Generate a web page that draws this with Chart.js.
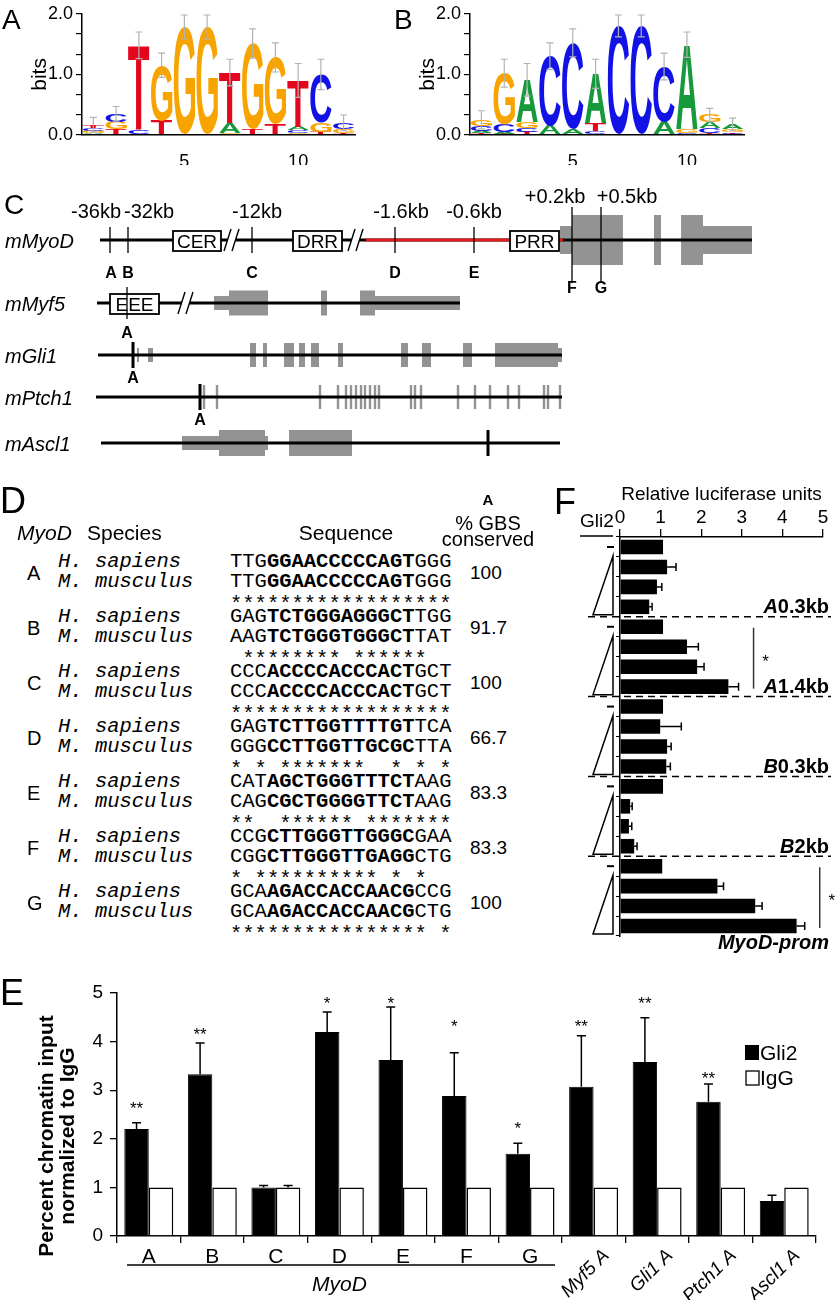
<!DOCTYPE html>
<html>
<head>
<meta charset="utf-8">
<script src="https://cdn.jsdelivr.net/npm/chart.js@4.4.1/dist/chart.umd.min.js"></script>
<style>
  html, body { margin: 0; padding: 0; background: #fff; }
  body { position: relative; width: 840px; height: 1300px; overflow: hidden;
         font-family: "Liberation Sans", Arial, sans-serif; color: #000; }
  .t { position: absolute; white-space: pre; line-height: 1; }
  .wrap { position: absolute; }
  .mono { font-family: "Liberation Mono", "Courier New", monospace; }
</style>
</head>
<body>
<div class="wrap" style="left:0;top:0"><canvas id="logoA" width="400" height="165"></canvas></div>
<div class="wrap" style="left:395px;top:0"><canvas id="logoB" width="445" height="165"></canvas></div>
<div class="wrap" style="left:0;top:160px"><canvas id="genes" width="840" height="310"></canvas></div>
<div class="wrap" style="left:575px;top:475px"><canvas id="luc" width="265" height="480"></canvas></div>
<div class="wrap" style="left:0;top:960px"><canvas id="chip" width="840" height="340"></canvas></div>
<div id="text"></div>

<script>
// ---------- A / B: sequence logos (bits per base at positions 1-12)
const logoPositions = ['1','2','3','4','5','6','7','8','9','10','11','12'];
const logoYTicks = [0, 1/3, 2/3, 1, 4/3, 5/3, 2];
const logoA_A = [0.03, 0.00, 0.00, 0.00, 0.00, 0.00, 0.16, 0.00, 0.00, 0.06, 0.00, 0.00];
const logoA_C = [0.05, 0.13, 0.08, 0.00, 0.00, 0.00, 0.00, 0.00, 0.00, 0.05, 0.80, 0.10];
const logoA_G = [0.04, 0.12, 0.00, 0.91, 1.78, 1.78, 0.04, 1.41, 1.10, 0.03, 0.16, 0.07];
const logoA_T = [0.05, 0.10, 1.40, 0.24, 0.00, 0.00, 0.83, 0.10, 0.18, 0.76, 0.04, 0.03];
const logoAErr = [0.12, 0.12, 0.22, 0.20, 0.20, 0.20, 0.22, 0.24, 0.24, 0.28, 0.25, 0.13];
const logoB_A = [0.04, 0.03, 0.70, 0.15, 0.10, 0.82, 0.00, 0.00, 0.22, 1.39, 0.10, 0.08];
const logoB_C = [0.08, 0.12, 0.06, 1.15, 1.42, 0.06, 1.80, 1.80, 0.91, 0.04, 0.08, 0.03];
const logoB_G = [0.10, 0.85, 0.10, 0.00, 0.00, 0.00, 0.00, 0.00, 0.00, 0.06, 0.12, 0.05];
const logoB_T = [0.03, 0.02, 0.05, 0.00, 0.00, 0.13, 0.00, 0.00, 0.00, 0.00, 0.03, 0.02];
const logoBErr = [0.15, 0.23, 0.27, 0.22, 0.23, 0.24, 0.18, 0.18, 0.22, 0.21, 0.11, 0.10];

// ---------- C: gene maps (diagram units, left→right / top→bottom)
const geneNames = ['mMyoD', 'mMyf5', 'mGli1', 'mPtch1', 'mAscl1'];
const geneRow = [240, 303, 355, 397, 443];
const geneSpan = [[100, 752], [97, 460], [98, 562], [96, 562], [101, 560]];
const geneUTR = [[[560, 572], [703, 752]], [[214, 229], [375, 460]], [[137, 139], [148, 153], [558, 562]], [], [[182, 219], [265, 268]]];
const ptch1Exons = [204, 217, 320, 338, 346, 351, 356, 361, 365, 370, 375, 379, 411, 415, 421, 458, 475, 490, 508, 519, 544, 548, 560];
const geneCDS = [
  [[572, 623], [654, 661], [681, 703]],
  [[229, 268], [321, 327], [360, 375]],
  [[250, 256], [263, 267], [284, 294], [299, 305], [311, 319], [338, 343], [401, 408], [422, 431], [463, 472], [495, 558]],
  ptch1Exons.map(c => [c - 1.2, c + 1.2]),
  [[219, 265], [289, 352]]
];
const geneUTRHalf = [14, 7, 7, 0, 7];
const geneCDSHalf = [25, 12.5, 12, 12, 13];
const geneBreaks = [[232, 356], [186], [], [], []];
const geneBoxes = [[['CER', 173, 221], ['DRR', 293, 342], ['PRR', 510, 559]], [['EEE', 110, 159]], [], [], []];
const myodPromoter = [366, 563];
const myodSites = ['A', 'B', 'C', 'D', 'E', 'F', 'G'];
const myodSiteX = [110, 128, 252, 395, 474, 572, 601];
const myodSiteKb = ['-36kb', '-32kb', '-12kb', '-1.6kb', '-0.6kb', '+0.2kb', '+0.5kb'];
const myodKbAt = [96, 149, 257, 401, 474, 555, 627];
const otherSiteX = [127, 133, 200, 488];        // Myf5, Gli1, Ptch1, Ascl1
const otherSiteLabel = ['A', 'A', 'A', ''];

// ---------- D: conservation of Gli binding sites
const dSites = ['A', 'B', 'C', 'D', 'E', 'F', 'G'];
const dHuman = ['TTGGGAACCCCCAGTGGG', 'GAGTCTGGGAGGGCTTGG', 'CCCACCCCACCCACTGCT', 'GAGTCTTGGTTTTGTTCA',
                'CATAGCTGGGTTTCTAAG', 'CCGCTTGGGTTGGGCGAA', 'GCAAGACCACCAACGCCG'];
const dMouse = ['TTGGGAACCCCCAGTGGG', 'AAGTCTGGGTGGGCTTAT', 'CCCACCCCACCCACTGCT', 'GGGCCTTGGTTGCGCTTA',
                'CAGCGCTGGGGTTCTAAG', 'CGGCTTGGGTTGAGGCTG', 'GCAAGACCACCAACGCTG'];
const dStars = ['******************', ' ******** ******  ', '******************', '* * *******  * * *',
                '**  ****** *******', '* ********** * *  ', '**************** *'];
const dConserved = ['100', '91.7', '100', '66.7', '83.3', '83.3', '100'];

// ---------- E: ChIP
const eLabels = ['A', 'B', 'C', 'D', 'E', 'F', 'G', 'Myf5 A', 'Gli1 A', 'Ptch1 A', 'Ascl1 A'];
const eGli2 = [2.20, 3.33, 1.00, 4.20, 3.62, 2.88, 1.69, 3.07, 3.58, 2.76, 0.72];
const eGli2Err = [0.13, 0.64, 0.04, 0.41, 1.09, 0.89, 0.22, 1.05, 0.91, 0.37, 0.12];
const eIgG = [1, 1, 1, 1, 1, 1, 1, 1, 1, 1, 1];
const eIgGErr = [0, 0, 0.04, 0, 0, 0, 0, 0, 0, 0, 0];
const eStars = ['**', '**', '', '*', '*', '*', '*', '**', '**', '**', ''];
const eStarLevel = [2.70, 4.24, 0, 4.88, 4.88, 4.40, 2.29, 4.40, 4.88, 3.33, 0];

// ---------- F: luciferase
const fGroupGene = ['A', 'A', 'B', 'B', 'MyoD-prom'];
const fGroupSize = ['0.3kb', '1.4kb', '0.3kb', '2kb', ''];
const fValues = [1.06, 1.16, 0.91, 0.72, 1.06, 1.65, 1.90, 2.67, 1.06, 0.99, 1.16, 1.14,
                 1.06, 0.25, 0.22, 0.35, 1.04, 2.40, 3.33, 4.35];
const fErr = [0, 0.22, 0.12, 0.07, 0, 0.28, 0.17, 0.25, 0, 0.52, 0.10, 0.10,
              0, 0.05, 0.07, 0.07, 0, 0.15, 0.17, 0.20];
const fSignificant = [false, true, false, false, true];

Chart.defaults.font.family = '"Liberation Sans", Arial, sans-serif';
Chart.defaults.color = '#000';
const SANS = '"Liberation Sans", Arial, sans-serif';

// ---------------------------------------------------------------- logos
const baseColor = { A: '#169a3c', C: '#1212e6', G: '#f8a400', T: '#e3061d' };

function drawGlyph(ctx, ch, x, y, w, h, color) {
  if (h < 0.6) return;
  ctx.save();
  ctx.font = 'bold 100px ' + SANS;
  const m = ctx.measureText(ch);
  const gw = m.actualBoundingBoxLeft + m.actualBoundingBoxRight;
  const gh = m.actualBoundingBoxAscent + m.actualBoundingBoxDescent;
  ctx.translate(x, y);
  ctx.scale(w / gw, h / gh);
  ctx.fillStyle = color;
  ctx.textAlign = 'left';
  ctx.textBaseline = 'alphabetic';
  ctx.fillText(ch, m.actualBoundingBoxLeft, m.actualBoundingBoxAscent);
  ctx.restore();
}

function makeLogo(id, cols, err, padLeft, padRight) {
  const bases = ['A', 'C', 'G', 'T'];
  const ranks = [0, 1, 2, 3].map(() => ({ h: [], b: [] }));
  const totals = [];
  logoPositions.forEach((p, i) => {
    const order = bases.map((b, k) => ({ b, h: cols[k][i] })).sort((a, c) => a.h - c.h);
    order.forEach((o, r) => { ranks[r].h.push(o.h); ranks[r].b.push(o.b); });
    totals.push(order.reduce((s, o) => s + o.h, 0));
  });

  const letters = {
    id: 'letters',
    afterDatasetsDraw(chart) {
      const ctx = chart.ctx;
      chart.data.datasets.forEach((ds, di) => {
        chart.getDatasetMeta(di).data.forEach((bar, i) => {
          if (ds.data[i] <= 0) return;
          const b = ds.bases[i];
          drawGlyph(ctx, b, bar.x - bar.width / 2, bar.y, bar.width, bar.base - bar.y, baseColor[b]);
        });
      });
      const { x, y } = chart.scales;
      ctx.save();
      ctx.strokeStyle = '#b2b2b2';
      ctx.lineWidth = 1.2;
      err.forEach((e, i) => {
        const px = x.getPixelForValue(i);
        const y1 = y.getPixelForValue(totals[i] + e), y0 = y.getPixelForValue(totals[i] - e);
        ctx.beginPath();
        ctx.moveTo(px, y0); ctx.lineTo(px, y1);
        ctx.moveTo(px - 3.5, y1); ctx.lineTo(px + 3.5, y1);
        ctx.moveTo(px - 3.5, y0); ctx.lineTo(px + 3.5, y0);
        ctx.stroke();
      });
      ctx.restore();
    }
  };

  return new Chart(document.getElementById(id), {
    type: 'bar',
    data: {
      labels: logoPositions,
      datasets: ranks.map(r => ({
        data: r.h, bases: r.b, backgroundColor: 'rgba(0,0,0,0)', borderWidth: 0,
        barPercentage: 0.94, categoryPercentage: 1
      }))
    },
    options: {
      responsive: false, animation: false, events: [],
      layout: { padding: { left: padLeft, right: padRight, top: 10, bottom: 0 } },
      plugins: { legend: { display: false }, tooltip: { enabled: false } },
      scales: {
        x: {
          stacked: true,
          grid: { display: false },
          border: { color: '#000', width: 1.5 },
          ticks: {
            autoSkip: false, maxRotation: 0, padding: 8, font: { size: 18 },
            callback: (v, i) => (logoPositions[i] === '5' || logoPositions[i] === '10') ? logoPositions[i] : ''
          },
          afterFit: s => { s.height = 30; }
        },
        y: {
          stacked: true, min: 0, max: 2,
          afterBuildTicks: s => { s.ticks = logoYTicks.map(v => ({ value: v })); },
          ticks: { autoSkip: false, font: { size: 18 }, padding: 3,
                   callback: v => Math.abs(v - Math.round(v)) < 1e-6 ? v.toFixed(1) : '' },
          grid: { drawOnChartArea: false, tickLength: 6, color: '#000', lineWidth: 1.2 },
          border: { color: '#000', width: 1.5 },
          title: { display: true, text: 'bits', font: { size: 21 }, padding: 0 },
          afterFit: s => { s.width = 54; }
        }
      }
    },
    plugins: [letters]
  });
}

makeLogo('logoA', [logoA_A, logoA_C, logoA_G, logoA_T], logoAErr, 28, 45);
makeLogo('logoB', [logoB_A, logoB_C, logoB_G, logoB_T], logoBErr, 21, 96);

// ---------------------------------------------------------------- gene maps
const genePlugin = {
  id: 'genes',
  afterDraw(chart) {
    const { ctx, scales: { x, y } } = chart;
    const X = v => x.getPixelForValue(v), Y = v => y.getPixelForValue(v);
    ctx.save();
    ctx.textAlign = 'center';
    ctx.textBaseline = 'alphabetic';

    geneNames.forEach((name, g) => {
      const row = geneRow[g];
      // exons
      ctx.fillStyle = '#939393';
      geneUTR[g].forEach(([a, b]) => ctx.fillRect(X(a), Y(row - geneUTRHalf[g]), X(b) - X(a), 2 * geneUTRHalf[g]));
      geneCDS[g].forEach(([a, b]) => ctx.fillRect(X(a), Y(row - geneCDSHalf[g]), X(b) - X(a), 2 * geneCDSHalf[g]));
      // backbone
      ctx.strokeStyle = '#000';
      ctx.lineWidth = 3;
      ctx.beginPath();
      ctx.moveTo(X(geneSpan[g][0]), Y(row)); ctx.lineTo(X(geneSpan[g][1]), Y(row));
      ctx.stroke();
      if (g === 0) {
        ctx.strokeStyle = '#e01b1b';
        ctx.beginPath();
        ctx.moveTo(X(myodPromoter[0]), Y(row)); ctx.lineTo(X(myodPromoter[1]), Y(row));
        ctx.stroke();
      }
      // axis breaks
      geneBreaks[g].forEach(c => {
        ctx.fillStyle = '#fff';
        ctx.beginPath();
        ctx.moveTo(X(c - 8), Y(row + 11)); ctx.lineTo(X(c - 1), Y(row - 11));
        ctx.lineTo(X(c + 7), Y(row - 11)); ctx.lineTo(X(c), Y(row + 11));
        ctx.closePath(); ctx.fill();
        ctx.strokeStyle = '#000'; ctx.lineWidth = 1.4;
        ctx.beginPath();
        ctx.moveTo(X(c - 8), Y(row + 11)); ctx.lineTo(X(c - 1), Y(row - 11));
        ctx.moveTo(X(c), Y(row + 11)); ctx.lineTo(X(c + 7), Y(row - 11));
        ctx.stroke();
      });
      // regulatory boxes
      geneBoxes[g].forEach(([label, a, b]) => {
        ctx.fillStyle = '#fff';
        ctx.fillRect(X(a), Y(row - 9), X(b) - X(a), 20);
        ctx.strokeStyle = '#000'; ctx.lineWidth = 1.8;
        ctx.strokeRect(X(a), Y(row - 9), X(b) - X(a), 20);
        ctx.fillStyle = '#000';
        ctx.font = '19px ' + SANS;
        ctx.fillText(label, X((a + b) / 2), Y(row + 8));
      });
      // gene name
      ctx.fillStyle = '#000';
      ctx.font = 'italic 20px ' + SANS;
      ctx.textAlign = 'left';
      ctx.fillText(name, X(5), Y(row + 7.5));
      ctx.textAlign = 'center';
    });

    // MyoD Gli binding sites
    const r0 = geneRow[0];
    ctx.strokeStyle = '#000';
    ctx.lineWidth = 1.3;
    myodSites.forEach((s, i) => {
      const sx = X(myodSiteX[i]);
      const far = i >= 5;
      ctx.beginPath();
      ctx.moveTo(sx, Y(far ? r0 - 33 : r0 - 13)); ctx.lineTo(sx, Y(far ? r0 + 43 : r0 + 13));
      ctx.stroke();
      ctx.font = '20px ' + SANS;
      ctx.fillText(myodSiteKb[i], X(myodKbAt[i]), Y(far ? 203 : 218));
      ctx.font = 'bold 16px ' + SANS;
      ctx.fillText(s, sx + (i === 0 ? 1 : 0), Y(far ? 293 : 278));
    });

    // single sites on the other genes
    otherSiteX.forEach((sx, k) => {
      const row = geneRow[k + 1];
      ctx.lineWidth = k === 0 ? 1.3 : 3;
      const half = k === 0 ? 16 : 13;
      ctx.beginPath();
      ctx.moveTo(X(sx), Y(row - half)); ctx.lineTo(X(sx), Y(row + half));
      ctx.stroke();
      if (otherSiteLabel[k]) {
        ctx.font = 'bold 16px ' + SANS;
        ctx.fillText(otherSiteLabel[k], X(sx), Y(row + (k === 0 ? 35 : 28)));
      }
    });
    ctx.restore();
  }
};

new Chart(document.getElementById('genes'), {
  type: 'scatter',
  data: { datasets: [] },
  options: {
    responsive: false, animation: false, events: [],
    layout: { padding: 0 },
    plugins: { legend: { display: false }, tooltip: { enabled: false } },
    scales: {
      x: { type: 'linear', min: 0, max: 840, display: false },
      y: { type: 'linear', min: 160, max: 470, reverse: true, display: false }
    }
  },
  plugins: [genePlugin]
});

// ---------------------------------------------------------------- F: luciferase
const lucPlugin = {
  id: 'lucDecor',
  afterDraw(chart) {
    const { ctx, scales: { x, y } } = chart;
    const rowY = i => y.getPixelForValue(i);
    ctx.save();
    ctx.strokeStyle = '#000';
    ctx.fillStyle = '#000';
    ctx.lineWidth = 1.5;
    fValues.forEach((v, i) => {
      if (!fErr[i]) return;
      const x0 = x.getPixelForValue(v), x1 = x.getPixelForValue(v + fErr[i]), yy = rowY(i);
      ctx.beginPath();
      ctx.moveTo(x0, yy); ctx.lineTo(x1, yy);
      ctx.moveTo(x1, yy - 4); ctx.lineTo(x1, yy + 4);
      ctx.stroke();
    });

    fGroupGene.forEach((gene, k) => {
      const r0 = k * 4;
      // no-Gli2 control
      ctx.lineWidth = 2;
      ctx.beginPath();
      ctx.moveTo(32, rowY(r0)); ctx.lineTo(39, rowY(r0));
      ctx.stroke();
      // increasing Gli2 wedge
      const top = rowY(r0 + 1) - 11, bot = rowY(r0 + 3) + 8;
      ctx.lineWidth = 1.5;
      ctx.fillStyle = '#fff';
      ctx.beginPath();
      ctx.moveTo(38, top); ctx.lineTo(38, bot); ctx.lineTo(18, bot); ctx.closePath();
      ctx.fill(); ctx.stroke();
      ctx.fillStyle = '#000';
      // separators
      if (k > 0) {
        const sy = (rowY(r0 - 1) + rowY(r0)) / 2;
        ctx.setLineDash([7, 5]);
        ctx.beginPath(); ctx.moveTo(13, sy); ctx.lineTo(256, sy); ctx.stroke();
        ctx.setLineDash([]);
      }
      // construct label
      const base = gene.length > 1 ? rowY(r0 + 3) + 23 : rowY(r0 + 3) + 6.5;
      ctx.font = 'bold 20px ' + SANS;
      const wSize = ctx.measureText(fGroupSize[k]).width;
      ctx.font = 'italic bold 20px ' + SANS;
      const wGene = ctx.measureText(gene).width;
      ctx.textAlign = 'left';
      ctx.fillText(gene, 254 - wSize - wGene, base);
      ctx.font = 'bold 20px ' + SANS;
      ctx.fillText(fGroupSize[k], 254 - wSize, base);
      // significance
      if (fSignificant[k]) {
        let m = 0;
        for (let i = r0; i < r0 + 4; i++) m = Math.max(m, fValues[i] + fErr[i]);
        const lx = x.getPixelForValue(m) + 15;
        ctx.strokeStyle = '#333';
        ctx.lineWidth = 1.5;
        ctx.beginPath(); ctx.moveTo(lx, rowY(r0) + 1); ctx.lineTo(lx, rowY(r0 + 3) + 2); ctx.stroke();
        ctx.strokeStyle = '#000';
        ctx.font = '17px ' + SANS;
        ctx.textAlign = 'center';
        ctx.fillText('*', lx + 12, (rowY(r0) + rowY(r0 + 3)) / 2 + 10);
      }
    });

    // Gli2 header
    ctx.font = '19px ' + SANS;
    ctx.textAlign = 'left';
    ctx.fillText('Gli2', 5, 52);
    ctx.lineWidth = 1.3;
    ctx.beginPath(); ctx.moveTo(5, 61); ctx.lineTo(38, 61); ctx.stroke();
    ctx.restore();
  }
};

new Chart(document.getElementById('luc'), {
  type: 'bar',
  data: {
    labels: fValues.map((v, i) => String(i + 1)),
    datasets: [{ data: fValues, backgroundColor: '#000', borderWidth: 0, barPercentage: 0.73, categoryPercentage: 1 }]
  },
  options: {
    indexAxis: 'y', responsive: false, animation: false, events: [],
    layout: { padding: { left: 41, right: 17, top: 0, bottom: 19 } },
    plugins: { legend: { display: false }, tooltip: { enabled: false } },
    scales: {
      x: {
        position: 'top', min: 0, max: 5,
        ticks: { stepSize: 1, font: { size: 19 }, padding: 0 },
        grid: { drawOnChartArea: false, tickLength: 8, color: '#000', lineWidth: 1.3 },
        border: { color: '#000', width: 1.5 },
        title: { display: true, text: 'Relative luciferase units', font: { size: 19 }, padding: { top: 8, bottom: 0 } },
        afterFit: s => { s.height = 62; }
      },
      y: {
        ticks: { display: false },
        grid: { offset: true, drawOnChartArea: false, tickLength: 4, color: '#000', lineWidth: 1 },
        border: { color: '#000', width: 1.5 },
        afterFit: s => { s.width = 4; }
      }
    }
  },
  plugins: [lucPlugin]
});

// ---------------------------------------------------------------- E: ChIP
const chipPlugin = {
  id: 'chipDecor',
  afterDraw(chart) {
    const { ctx, scales: { x, y } } = chart;
    ctx.save();
    ctx.strokeStyle = '#000';
    ctx.fillStyle = '#000';
    ctx.lineWidth = 1.5;
    [[eGli2, eGli2Err], [eIgG, eIgGErr]].forEach(([vals, errs], di) => {
      chart.getDatasetMeta(di).data.forEach((bar, i) => {
        if (!errs[i]) return;
        const y0 = y.getPixelForValue(vals[i]), y1 = y.getPixelForValue(vals[i] + errs[i]);
        ctx.beginPath();
        ctx.moveTo(bar.x, y0); ctx.lineTo(bar.x, y1);
        ctx.moveTo(bar.x - 4.5, y1); ctx.lineTo(bar.x + 4.5, y1);
        ctx.stroke();
      });
    });
    // significance
    ctx.font = '17px ' + SANS;
    ctx.textAlign = 'center';
    chart.getDatasetMeta(0).data.forEach((bar, i) => {
      if (eStars[i]) ctx.fillText(eStars[i], bar.x, y.getPixelForValue(eStarLevel[i]) + 9.7);
    });
    // category labels
    eLabels.forEach((lab, i) => {
      const cx = x.getPixelForValue(i);
      if (i < 7) {
        ctx.font = '21px ' + SANS;
        ctx.textAlign = 'center';
        ctx.textBaseline = 'alphabetic';
        ctx.fillText(lab, cx, 303);
      } else {
        ctx.save();
        ctx.translate(cx + 6, 286);
        ctx.rotate(-Math.PI / 4);
        ctx.font = 'italic 19px ' + SANS;
        ctx.textAlign = 'right';
        ctx.textBaseline = 'top';
        ctx.fillText(lab, 0, 0);
        ctx.restore();
      }
    });
    ctx.textBaseline = 'alphabetic';
    // MyoD bracket
    ctx.lineWidth = 1.5;
    ctx.beginPath(); ctx.moveTo(127, 305); ctx.lineTo(555, 305); ctx.stroke();
    ctx.font = 'italic 21px ' + SANS;
    ctx.textAlign = 'center';
    ctx.fillText('MyoD', (x.getPixelForValue(0) + x.getPixelForValue(6)) / 2, 331);
    // legend
    ctx.fillRect(745, 85, 14, 15);
    ctx.lineWidth = 1.3;
    ctx.fillStyle = '#fff';
    ctx.fillRect(746, 111, 13, 14);
    ctx.strokeRect(746, 111, 13, 14);
    ctx.fillStyle = '#000';
    ctx.font = '21px ' + SANS;
    ctx.textAlign = 'left';
    ctx.fillText('Gli2', 760, 100);
    ctx.fillText('IgG', 760, 125);
    // y title
    ctx.font = 'bold 21px ' + SANS;
    ctx.textAlign = 'center';
    ctx.textBaseline = 'middle';
    ctx.translate(47, 176);
    ctx.rotate(-Math.PI / 2);
    ctx.fillText('Percent chromatin input', 0, 0);
    ctx.fillText('normalized to IgG', 0, 21);
    ctx.restore();
  }
};

new Chart(document.getElementById('chip'), {
  type: 'bar',
  data: {
    labels: eLabels,
    datasets: [
      { label: 'Gli2', data: eGli2, backgroundColor: '#000', borderColor: '#000', borderWidth: 1 },
      { label: 'IgG', data: eIgG, backgroundColor: '#fff', borderColor: '#000', borderWidth: 1.5 }
    ]
  },
  options: {
    responsive: false, animation: false, events: [],
    datasets: { bar: { categoryPercentage: 0.77, barPercentage: 1 } },
    layout: { padding: { left: 0, right: 24, top: 33, bottom: 0 } },
    plugins: { legend: { display: false }, tooltip: { enabled: false } },
    scales: {
      x: {
        ticks: { display: false },
        grid: { offset: true, drawOnChartArea: false, tickLength: 7, color: '#000', lineWidth: 1.3 },
        border: { color: '#000', width: 1.5 },
        afterFit: s => { s.height = 64; }
      },
      y: {
        min: 0, max: 5,
        ticks: { stepSize: 1, font: { size: 19 }, padding: 7 },
        grid: { drawOnChartArea: false, tickLength: 7, color: '#000', lineWidth: 1.3 },
        border: { color: '#000', width: 1.5 },
        afterFit: s => { s.width = 117; }
      }
    }
  },
  plugins: [chipPlugin]
});

// ---------------------------------------------------------------- page text (panel letters, D)
const host = document.getElementById('text');
function put(str, left, baseline, size, extra, align) {
  const el = document.createElement('div');
  el.className = 't';
  const mono = !!extra && extra.indexOf('mono') === 0;
  el.textContent = str;
  el.style.fontSize = size + 'px';
  el.style.top = (baseline - (mono ? 0.7665 : 0.8465) * size) + 'px';
  if (extra) el.style.cssText += extra.replace(/^mono;?/, '');
  if (mono) el.classList.add('mono');
  if (align === 'center') { el.style.left = (left - 200) + 'px'; el.style.width = '400px'; el.style.textAlign = 'center'; }
  else el.style.left = left + 'px';
  host.appendChild(el);
  return el;
}

put('A', 2, 30, 28);
put('B', 394, 30, 28);
put('C', 4, 215, 28);
put('D', 0, 513, 36);
put('F', 554, 514, 36);
put('E', 0, 1005, 36);

// D header
put('A', 488, 505, 15, 'font-weight:bold;', 'center');
put('% GBS', 488, 530, 20, '', 'center');
put('conserved', 488, 546, 20, '', 'center');
put('MyoD', 17, 540, 21, 'font-style:italic;');
put('Species', 87, 540, 21);
put('Sequence', 346, 540, 21, '', 'center');

dSites.forEach((s, k) => {
  const hs = 568 + 55 * k;
  put(s, 27, hs + 12, 20);
  put('H. sapiens', 58, hs, 20.5, 'mono;font-style:italic;');
  put('M. musculus', 58, hs + 20, 20.5, 'mono;font-style:italic;');
  [dHuman[k], dMouse[k]].forEach((seq, j) => {
    const el = put('', 230, hs + 20 * j, 20.5, 'mono');
    el.innerHTML = seq.slice(0, 3) + '<b>' + seq.slice(3, 15) + '</b>' + seq.slice(15);
  });
  put(dStars[k], 230, hs + 43, 20.5, 'mono');
  put(dConserved[k], 470, hs + 11, 19);
});
</script>
</body>
</html>
